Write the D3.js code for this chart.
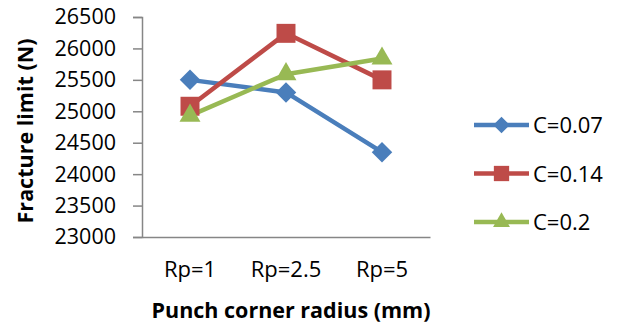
<!DOCTYPE html>
<html>
<head>
<meta charset="utf-8">
<script src="https://cdn.jsdelivr.net/npm/d3@7"></script>
<style>
  body { margin: 0; background: #fff; }
  text { font-family: "Open Sans", "Liberation Sans", sans-serif; fill: #000; }
</style>
</head>
<body>
<svg id="chart" width="619" height="328"></svg>
<script>
var categories = ["Rp=1", "Rp=2.5", "Rp=5"];
var seriesNames = ["C=0.07", "C=0.14", "C=0.2"];
var c007 = [25500, 25300, 24350];
var c014 = [25080, 26240, 25500];
var c020 = [24930, 25590, 25840];
var yTicks = [23000, 23500, 24000, 24500, 25000, 25500, 26000, 26500];

var colors = ["#4a7ebb", "#be4b48", "#98b954"];
var shapes = ["diamond", "square", "triangle"];
var series = [c007, c014, c020].map(function(v, i) {
  return { name: seriesNames[i], values: v, color: colors[i], shape: shapes[i] };
});

// marker path, k = scale (1 for plot, smaller for legend)
function marker(shape, k) {
  if (shape === "diamond") return d3.symbol().type(d3.symbolSquare).size(210 * k)();
  if (shape === "square") return d3.symbol().type(d3.symbolSquare).size(360 * k)();
  return d3.symbol().type(d3.symbolTriangle).size(190 * k)();
}
function rot(shape) { return shape === "diamond" ? " rotate(45)" : ""; }

var svg = d3.select("#chart");
var pLeft = 142, pRight = 430, pTop = 17, pBottom = 237;

var x = d3.scaleBand().domain(categories).range([pLeft, pRight]);
var y = d3.scaleLinear().domain([23000, 26500]).range([pBottom, pTop]);

// y axis
var ya = svg.append("g").attr("transform", "translate(" + pLeft + ",0)")
  .call(d3.axisLeft(y).tickValues(yTicks).tickSize(9).tickPadding(17).tickFormat(d3.format("d")));
ya.select(".domain").attr("stroke", "#868686").attr("stroke-width", 1.5);
ya.selectAll(".tick line").attr("stroke", "#868686").attr("stroke-width", 1.5);
ya.selectAll("text").style("font-size", "21.5px").attr("font-family", null);

// x axis
var xa = svg.append("g").attr("transform", "translate(0," + pBottom + ")")
  .call(d3.axisBottom(x).tickSize(0).tickPadding(24));
xa.select(".domain").attr("stroke", "#868686").attr("stroke-width", 1.5);
xa.selectAll("text").style("font-size", "22px").attr("font-family", null);

// titles
svg.append("text")
  .attr("transform", "translate(33,131) rotate(-90)")
  .attr("text-anchor", "middle")
  .style("font-size", "21.5px").style("font-weight", "bold")
  .text("Fracture limit (N)");
svg.append("text")
  .attr("x", 291).attr("y", 318)
  .attr("text-anchor", "middle")
  .style("font-size", "21.5px").style("font-weight", "bold")
  .text("Punch corner radius (mm)");

var line = d3.line()
  .x(function(d, i) { return x(categories[i]) + x.bandwidth() / 2; })
  .y(function(d) { return y(d); });

series.forEach(function(s) {
  svg.append("path").datum(s.values)
    .attr("d", line).attr("fill", "none")
    .attr("stroke", s.color).attr("stroke-width", 4.5).attr("stroke-linejoin", "round");
});
series.forEach(function(s) {
  svg.selectAll(null).data(s.values).enter().append("path")
    .attr("d", marker(s.shape, 1))
    .attr("transform", function(d, i) {
      return "translate(" + (x(categories[i]) + x.bandwidth() / 2) + "," + y(d) + ")" + rot(s.shape);
    })
    .attr("fill", s.color);
});

// legend
var lg = svg.selectAll(".lg").data(series).enter().append("g")
  .attr("transform", function(d, i) { return "translate(474," + (125 + i * 48.5) + ")"; });
lg.append("line").attr("x1", 0).attr("x2", 55)
  .attr("stroke", function(d) { return d.color; }).attr("stroke-width", 4.5);
lg.append("path")
  .attr("d", function(d) { return marker(d.shape, 0.65); })
  .attr("transform", function(d) { return "translate(27.5,0)" + rot(d.shape); })
  .attr("fill", function(d) { return d.color; });
lg.append("text").attr("x", 59).attr("y", 8)
  .style("font-size", "22px")
  .text(function(d) { return d.name; });
</script>
</body>
</html>
